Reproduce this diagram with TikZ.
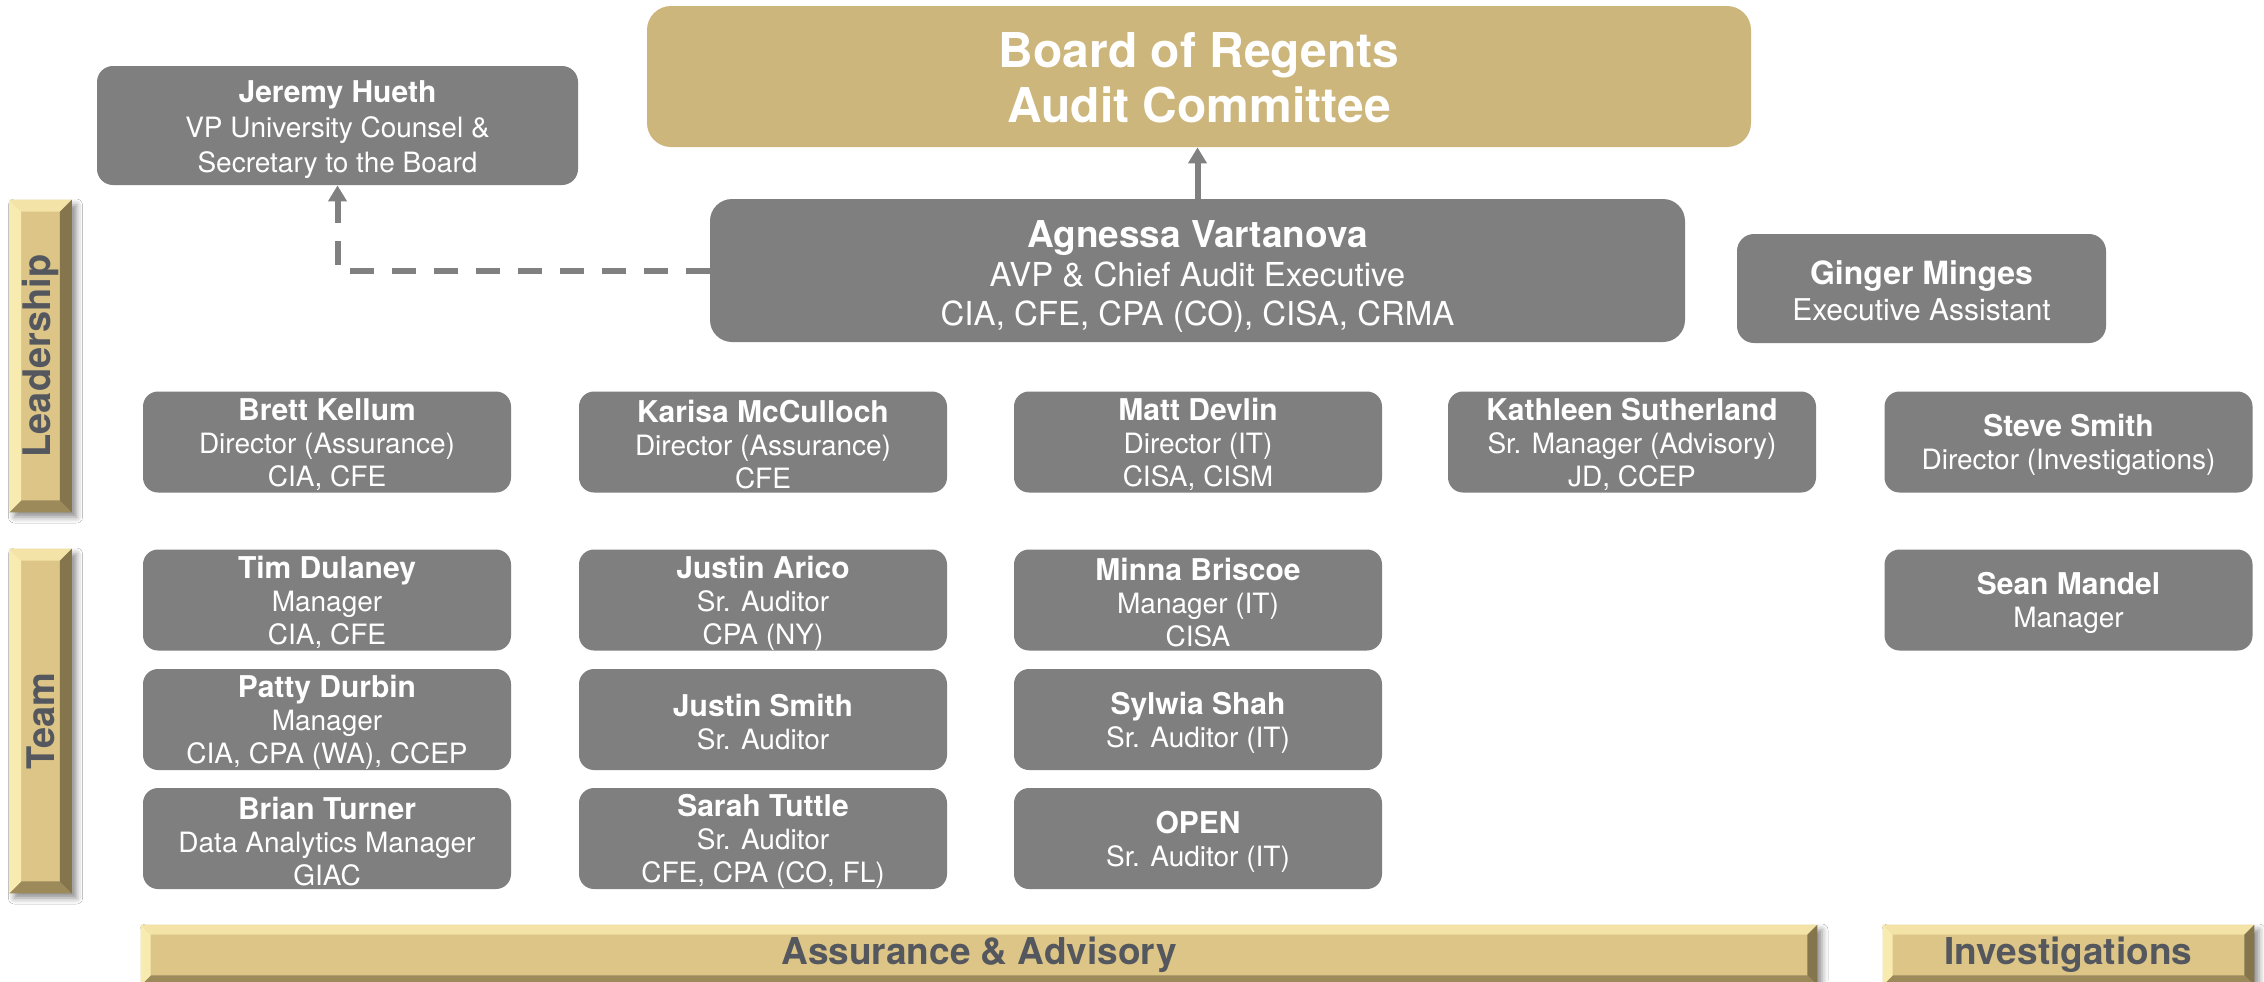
\documentclass[tikz,border=0pt]{standalone}
\usepackage{fontspec}
\setmainfont{TeX Gyre Heros}
\usetikzlibrary{arrows.meta,calc,shadows.blur}
\definecolor{boxgrey}{HTML}{7F7F7F}
\definecolor{boardgold}{HTML}{CDB67C}
\definecolor{barface}{HTML}{DCC587}
\definecolor{bvtopc}{HTML}{F3E3A6}
\definecolor{bvleftc}{HTML}{F8EBB0}
\definecolor{bvbotc}{HTML}{9C8A5B}
\definecolor{bvrightc}{HTML}{85754C}
\definecolor{bartextc}{HTML}{54585E}
\definecolor{conngrey}{HTML}{808080}
\newcommand\nm[1]{{\fontsize{15}{16.5}\selectfont\bfseries\rule{0pt}{14pt}#1}}
\newcommand\bevelbar[2]{%
  \fill[bvtopc] (#1.north west) -- (#1.north east) -- ($(#1.north east)+(-#2,#2)$) -- ($(#1.north west)+(#2,#2)$) -- cycle;
  \fill[bvbotc] (#1.south west) -- (#1.south east) -- ($(#1.south east)+(-#2,-#2)$) -- ($(#1.south west)+(#2,-#2)$) -- cycle;
  \fill[bvleftc] (#1.north west) -- ($(#1.north west)+(#2,#2)$) -- ($(#1.south west)+(#2,-#2)$) -- (#1.south west) -- cycle;
  \fill[bvrightc] (#1.north east) -- ($(#1.north east)+(-#2,#2)$) -- ($(#1.south east)+(-#2,-#2)$) -- (#1.south east) -- cycle;
}
\begin{document}
\begin{tikzpicture}[x=0.5pt,y=-0.5pt,
  gbox/.style={rounded corners=7.5pt, fill=boxgrey, text=white, align=center, inner sep=0pt,
    font=\fontsize{14}{16.5}\selectfont, minimum width=184pt, minimum height=50.5pt},
  goldbar/.style={fill=barface, inner sep=0pt, draw=none,
    blur shadow={shadow xshift=2.5pt, shadow yshift=-2.5pt, shadow blur radius=3pt, shadow opacity=45}},
  bartext/.style={text=bartextc, inner sep=0pt, font=\fontsize{19}{22}\selectfont\bfseries},
  conn/.style={draw=conngrey, line width=3pt, -{Triangle[width=9pt,length=8pt]}},
  dashconn/.style={conn, dash pattern=on 12pt off 9pt}
]
\fill[white] (0,0) rectangle (2264,981);
\useasboundingbox (0,0) rectangle (2264,981);

% top level
\node[rounded corners=12pt, fill=boardgold, text=white, align=center, inner sep=0pt,
  font=\fontsize{24}{27.5}\selectfont\bfseries, minimum width=552pt, minimum height=70.5pt]
  (board) at (1199,76.5) {\rule{0pt}{19pt}Board of Regents\\Audit Committee};
\node[gbox, rounded corners=8pt, minimum width=240.5pt, minimum height=59.5pt,
  font=\fontsize{14}{17.5}\selectfont] (jeremy) at (337.5,125.5)
  {{\fontsize{15}{16.5}\selectfont\bfseries\rule{0pt}{15pt}Jeremy Hueth}\\VP University Counsel \&\\Secretary to the Board};
\node[gbox, rounded corners=11pt, minimum width=487.5pt, minimum height=71.5pt,
  font=\fontsize{16.5}{19.5}\selectfont] (agnessa) at (1197.5,270.5)
  {{\fontsize{18.5}{19.5}\selectfont\bfseries\rule{0pt}{19.5pt}Agnessa Vartanova}\\AVP \& Chief Audit Executive\\CIA, CFE, CPA (CO), CISA, CRMA};
\node[gbox, rounded corners=8.5pt, minimum width=184.5pt, minimum height=54.5pt,
  font=\fontsize{15}{18}\selectfont] (ginger) at (1921.5,288.5)
  {{\fontsize{16}{18}\selectfont\bfseries\rule{0pt}{14.5pt}Ginger Minges}\\Executive Assistant};

% leadership row
\node[gbox] (brett) at (327,442) {\nm{Brett Kellum}\\Director (Assurance)\\CIA, CFE};
\node[gbox] (karisa) at (763,442) {\nm{Karisa McCulloch}\\Director (Assurance)\\CFE};
\node[gbox] (matt) at (1198,442) {\nm{Matt Devlin}\\Director (IT)\\CISA, CISM};
\node[gbox] (kathleen) at (1632,442) {\nm{Kathleen Sutherland}\\Sr. Manager (Advisory)\\JD, CCEP};
\node[gbox] (steve) at (2068.5,442) {\nm{Steve Smith}\\Director (Investigations)};

% team rows
\node[gbox] (tim) at (327,600) {\nm{Tim Dulaney}\\Manager\\CIA, CFE};
\node[gbox] (patty) at (327,719.5) {\nm{Patty Durbin}\\Manager\\CIA, CPA (WA), CCEP};
\node[gbox] (brian) at (327,838.5) {\nm{Brian Turner}\\Data Analytics Manager\\GIAC};
\node[gbox] (arico) at (763,600) {\nm{Justin Arico}\\Sr. Auditor\\CPA (NY)};
\node[gbox] (jsmith) at (763,719.5) {\nm{Justin Smith}\\Sr. Auditor};
\node[gbox] (sarah) at (763,838.5) {\nm{Sarah Tuttle}\\Sr. Auditor\\CFE, CPA (CO, FL)};
\node[gbox] (minna) at (1198,600) {\nm{Minna Briscoe}\\Manager (IT)\\CISA};
\node[gbox] (sylwia) at (1198,719.5) {\nm{Sylwia Shah}\\Sr. Auditor (IT)};
\node[gbox] (open) at (1198,838.5) {\nm{OPEN}\\Sr. Auditor (IT)};
\node[gbox] (sean) at (2068.5,600) {\nm{Sean Mandel}\\Manager};

% connectors
\draw[conn] (agnessa.north) -- (agnessa.north |- board.south);
\draw[dashconn] (agnessa.west) -- (agnessa.west -| jeremy.south) -- (jeremy.south);

% gold bars
\node[goldbar, minimum width=31pt, minimum height=156pt] (leadbar) at (40.5,356) {};
\bevelbar{leadbar}{12}
\node[bartext, rotate=90] (leadlbl) at (leadbar.center) {Leadership};

\node[goldbar, minimum width=31pt, minimum height=172pt] (teambar) at (40.5,721) {};
\bevelbar{teambar}{12}
\node[bartext, rotate=90] (teamlbl) at (teambar.center) {Team};

\node[goldbar, minimum width=838pt, minimum height=30pt] (assbar) at (979,955) {};
\bevelbar{assbar}{10}
\node[bartext, font=\fontsize{18.5}{22}\selectfont\bfseries] (asslbl) at (assbar.center) {Assurance \& Advisory};

\node[goldbar, minimum width=185.5pt, minimum height=30pt] (invbar) at (2068.5,955) {};
\bevelbar{invbar}{10}
\node[bartext, font=\fontsize{18.5}{22}\selectfont\bfseries] (invlbl) at (invbar.center) {Investigations};
\end{tikzpicture}
\end{document}
